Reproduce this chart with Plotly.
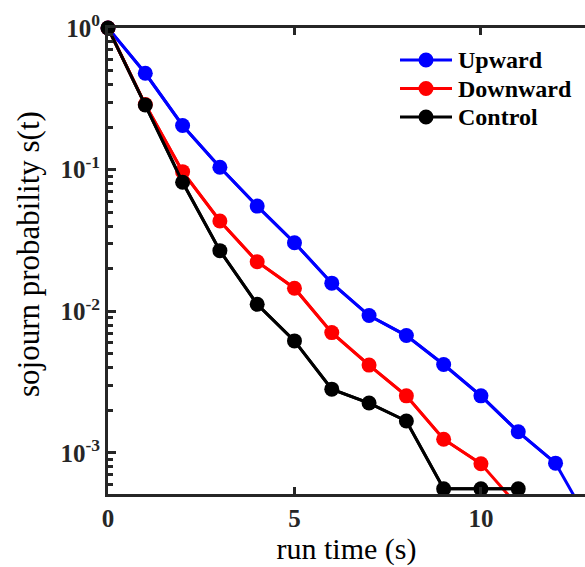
import numpy as np
import plotly.graph_objects as go

# run times (s) at which the sojourn probability was sampled
t_up = [0, 1, 2, 3, 4, 5, 6, 7, 8, 9, 10, 11, 12, 13]
s_up = [1.0, 0.479, 0.205, 0.104, 0.0553, 0.0305, 0.0158, 0.00933, 0.00674,
        0.00421, 0.00253, 0.00141, 0.000847, 0.00029]

t_down = [0, 1, 2, 3, 4, 5, 6, 7, 8, 9, 10, 11]
s_down = [1.0, 0.288, 0.0968, 0.0434, 0.0224, 0.01455, 0.00707, 0.00417,
          0.00253, 0.00125, 0.000838, 0.00042]

t_ctrl = [0, 1, 2, 3, 4, 5, 6, 7, 8, 9, 10, 11]
s_ctrl = [1.0, 0.286, 0.0815, 0.0268, 0.0112, 0.00618, 0.00282, 0.00225,
          0.00168, 0.000558, 0.000558, 0.000558]

series = [
    ("Upward", t_up, s_up, "#0000ff"),
    ("Downward", t_down, s_down, "#ff0000"),
    ("Control", t_ctrl, s_ctrl, "#000000"),
]

W, H = 585, 567
M_L, M_R, M_T, M_B = 108, 0, 28, 73
y_min = 5.13e-4
x_range = [0, 12.79]
axis_col = "#262626"
serif = "Liberation Serif, Times New Roman, serif"

plot_w = W - M_L - M_R
plot_h = H - M_T - M_B


def px_to_paper(px, py):
    return (px - M_L) / plot_w, 1 - (py - M_T) / plot_h


fig = go.Figure()
for name, t, s, col in series:
    # full curve, clipped to the axes so segments leaving the range are cut
    fig.add_trace(go.Scatter(
        x=t, y=s, mode="lines", line=dict(color=col, width=3),
        showlegend=False, hoverinfo="skip", cliponaxis=True))
for name, t, s, col in series:
    t_arr = np.asarray(t)
    s_arr = np.asarray(s)
    keep = s_arr >= y_min
    # markers inside the range, drawn unclipped so edge markers stay whole
    fig.add_trace(go.Scatter(
        x=t_arr[keep], y=s_arr[keep], mode="lines+markers", name=name,
        line=dict(color=col, width=3),
        marker=dict(color=col, size=15, line=dict(width=0)),
        cliponaxis=False, showlegend=False))

# legend block: long line sample with a centred dot, bold label to the right
shapes = []
annotations = []
leg_x0, leg_x1, leg_dot, leg_text = 400, 452, 426, 456
leg_rows = [60, 88.5, 117]
for (name, _, _, col), row in zip(series, leg_rows):
    x0, y0 = px_to_paper(leg_x0, row)
    x1, _ = px_to_paper(leg_x1, row)
    shapes.append(dict(type="line", xref="paper", yref="paper",
                       x0=x0, x1=x1, y0=y0, y1=y0,
                       line=dict(color=col, width=3)))
    cx0, cy0 = px_to_paper(leg_dot - 7.5, row - 7.5)
    cx1, cy1 = px_to_paper(leg_dot + 7.5, row + 7.5)
    shapes.append(dict(type="circle", xref="paper", yref="paper",
                       x0=cx0, x1=cx1, y0=cy1, y1=cy0,
                       fillcolor=col, line=dict(width=0)))
    tx, ty = px_to_paper(leg_text, row)
    annotations.append(dict(text=name, xref="paper", yref="paper",
                            x=tx, y=ty, xanchor="left", yanchor="middle",
                            showarrow=False,
                            font=dict(family=serif, size=24, color="black",
                                      weight="bold")))

lx, ly = px_to_paper(28, 254)
annotations.append(dict(
    text="sojourn probability s(t)", textangle=-90,
    xref="paper", yref="paper", x=lx, y=ly,
    xanchor="center", yanchor="middle", showarrow=False,
    font=dict(family=serif, size=31, color="black"),
))

major_y = [1, 0.1, 0.01, 0.001]
major_y_text = ["10<sup>0</sup>", "10<sup>-1</sup>", "10<sup>-2</sup>", "10<sup>-3</sup>"]
minor_y = [m * 10.0 ** e for e in range(-4, 0) for m in range(2, 10)]

fig.update_layout(
    width=W, height=H,
    margin=dict(l=M_L, r=M_R, t=M_T, b=M_B),
    paper_bgcolor="white", plot_bgcolor="white",
    font=dict(family=serif, color=axis_col),
    showlegend=False,
    shapes=shapes,
    annotations=annotations,
    xaxis=dict(
        range=x_range, tickvals=[0, 5, 10], ticktext=["0", "5", "10"],
        ticks="inside", ticklen=7, tickwidth=2.5, tickcolor=axis_col,
        showline=True, linewidth=3, linecolor=axis_col, mirror="ticks",
        showgrid=False, zeroline=False,
        tickfont=dict(family=serif, size=25, color=axis_col, weight="bold"),
        title=dict(text="run time (s)", standoff=6,
                   font=dict(family=serif, size=30, color="black")),
    ),
    yaxis=dict(
        type="log", range=[np.log10(y_min), 0],
        tickvals=major_y, ticktext=major_y_text,
        ticks="inside", ticklen=8, tickwidth=2.5, tickcolor=axis_col,
        minor=dict(tickvals=minor_y, ticks="inside", ticklen=5,
                   tickwidth=2.5, tickcolor=axis_col, showgrid=False),
        showline=True, linewidth=3, linecolor=axis_col, mirror=False,
        showgrid=False, zeroline=False,
        tickfont=dict(family=serif, size=25, color=axis_col, weight="bold"),
    ),
)

fig.write_html("out.html")
